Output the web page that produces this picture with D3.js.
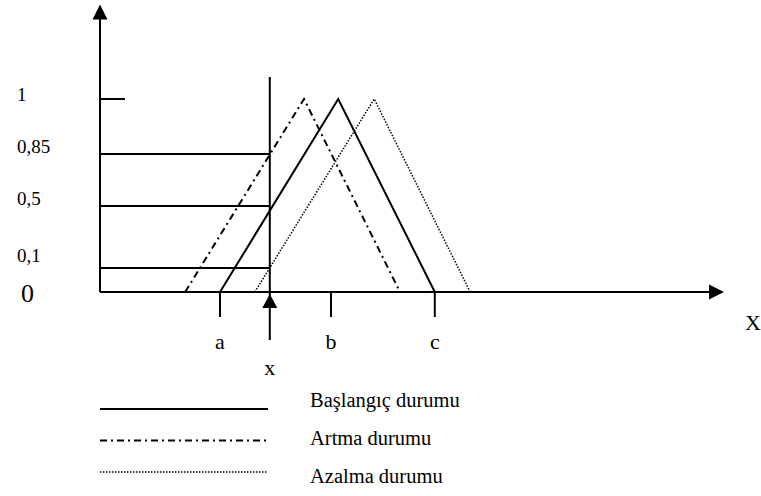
<!DOCTYPE html>
<html>
<head>
<meta charset="utf-8">
<script src="https://cdn.jsdelivr.net/npm/d3@7"></script>
<style>
	body { margin: 0; background: #fff; }
	svg { display: block; }
	text { font-family: "Liberation Serif", "Times New Roman", serif; fill: #000; }
</style>
</head>
<body>
<script>
(function() {

"use strict";

// triangle vertices [x, membership]
const BASLANGIC = [[2.00, 0], [3.97, 1], [5.58, 0]];
const ARTMA     = [[1.42, 0], [3.40, 1], [5.00, 0]];
const AZALMA    = [[2.58, 0], [4.57, 1], [6.17, 0]];

const SERIES = ["Başlangıç durumu", "Artma durumu", "Azalma durumu"];

// the chosen x and the membership levels where it cuts each triangle
const X_VALUE = 2.83;
const LEVELS = [0.715, 0.446, 0.124];
const LEVEL_LABELS = ["0,85", "0,5", "0,1"];

const TOP_TICK = 1;
const TOP_LABEL = "1";
const ORIGIN_LABEL = "0";

const X_TICKS = [2.00, 3.85, 5.58];
const X_TICK_LABELS = ["a", "b", "c"];

const width = 761, height = 496;

let x = d3.scaleLinear().domain([0, 10.4]).range([100, 724]);
let y = d3.scaleLinear().domain([0, 1]).range([292, 99]);

let svg = d3.select("body").append("svg")
	.attr("width", width)
	.attr("height", height)
	.attr("viewBox", `0 0 ${width} ${height}`);

const styles = [
	{width: 2, dash: null},
	{width: 2, dash: "7,4,2,4"},
	{width: 1.5, dash: "1.5,1.5"},
];

let line = d3.line()
	.x(d => x(d[0]))
	.y(d => y(d[1]));

// level lines from the y axis to x
svg.append("g")
	.selectAll("line")
	.data(LEVELS)
	.join("line")
		.attr("x1", x(0))
		.attr("x2", x(X_VALUE))
		.attr("y1", d => y(d))
		.attr("y2", d => y(d))
		.attr("stroke", "#000")
		.attr("stroke-width", 2);

// the lowest label sits a little higher above its line in the original
svg.append("g")
	.selectAll("text")
	.data(LEVELS)
	.join("text")
		.attr("x", 17)
		.attr("y", (d, i) => y(d) - (i == LEVELS.length - 1 ? 6 : 1))
		.attr("font-size", 19)
		.text((d, i) => LEVEL_LABELS[i]);

// short tick at 1
svg.append("line")
	.attr("x1", x(0))
	.attr("x2", x(0) + 25)
	.attr("y1", y(TOP_TICK))
	.attr("y2", y(TOP_TICK))
	.attr("stroke", "#000")
	.attr("stroke-width", 2);

svg.append("text")
	.attr("x", 17)
	.attr("y", y(TOP_TICK) + 2)
	.attr("font-size", 19)
	.text(TOP_LABEL);

svg.append("text")
	.attr("x", 21)
	.attr("y", y(0) + 10)
	.attr("font-size", 26)
	.text(ORIGIN_LABEL);

// triangles
svg.append("g")
	.selectAll("path")
	.data([BASLANGIC, ARTMA, AZALMA])
	.join("path")
		.attr("d", line)
		.attr("fill", "none")
		.attr("stroke", "#000")
		.attr("stroke-width", (d, i) => styles[i].width)
		.attr("stroke-dasharray", (d, i) => styles[i].dash);

// axes
let yTop = y(1.49);
svg.append("line")
	.attr("x1", x(0)).attr("x2", x(0))
	.attr("y1", y(0)).attr("y2", yTop + 14)
	.attr("stroke", "#000").attr("stroke-width", 2);
svg.append("path")
	.attr("d", `M${x(0)},${yTop} L${x(0) - 7.5},${yTop + 15} L${x(0) + 7.5},${yTop + 15} Z`)
	.attr("fill", "#000");

let xEnd = x(10.4);
svg.append("line")
	.attr("x1", x(0)).attr("x2", xEnd - 14)
	.attr("y1", y(0)).attr("y2", y(0))
	.attr("stroke", "#000").attr("stroke-width", 2);
svg.append("path")
	.attr("d", `M${xEnd},${y(0)} L${xEnd - 15},${y(0) - 7.5} L${xEnd - 15},${y(0) + 7.5} Z`)
	.attr("fill", "#000");

svg.append("text")
	.attr("x", 753)
	.attr("y", 330)
	.attr("text-anchor", "middle")
	.attr("font-size", 22)
	.text("X");

// a, b, c ticks below the axis
svg.append("g")
	.selectAll("line")
	.data(X_TICKS)
	.join("line")
		.attr("x1", d => x(d)).attr("x2", d => x(d))
		.attr("y1", y(0)).attr("y2", y(0) + 25)
		.attr("stroke", "#000")
		.attr("stroke-width", 2);

svg.append("g")
	.selectAll("text")
	.data(X_TICKS)
	.join("text")
		.attr("x", d => x(d))
		.attr("y", 349)
		.attr("text-anchor", "middle")
		.attr("font-size", 22)
		.text((d, i) => X_TICK_LABELS[i]);

// the x marker: vertical line with an arrow up to the axis
let xm = x(X_VALUE);
svg.append("line")
	.attr("x1", xm).attr("x2", xm)
	.attr("y1", 77).attr("y2", 340)
	.attr("stroke", "#000").attr("stroke-width", 2);
svg.append("path")
	.attr("d", `M${xm},${y(0) + 2} L${xm - 7.5},${y(0) + 16} L${xm + 7.5},${y(0) + 16} Z`)
	.attr("fill", "#000");
svg.append("text")
	.attr("x", xm)
	.attr("y", 375)
	.attr("text-anchor", "middle")
	.attr("font-size", 22)
	.text("x");

// legend
let legend = svg.append("g")
	.selectAll("g")
	.data(SERIES)
	.join("g");

legend.append("line")
	.attr("x1", 100).attr("x2", 268)
	.attr("y1", (d, i) => 409 + i * 31.5)
	.attr("y2", (d, i) => 409 + i * 31.5)
	.attr("stroke", "#000")
	.attr("stroke-width", (d, i) => styles[i].width)
	.attr("stroke-dasharray", (d, i) => styles[i].dash);

legend.append("text")
	.attr("x", 310)
	.attr("y", (d, i) => 407 + i * 38)
	.attr("font-size", 20.5)
	.text(d => d);

})();
</script>
</body>
</html>
